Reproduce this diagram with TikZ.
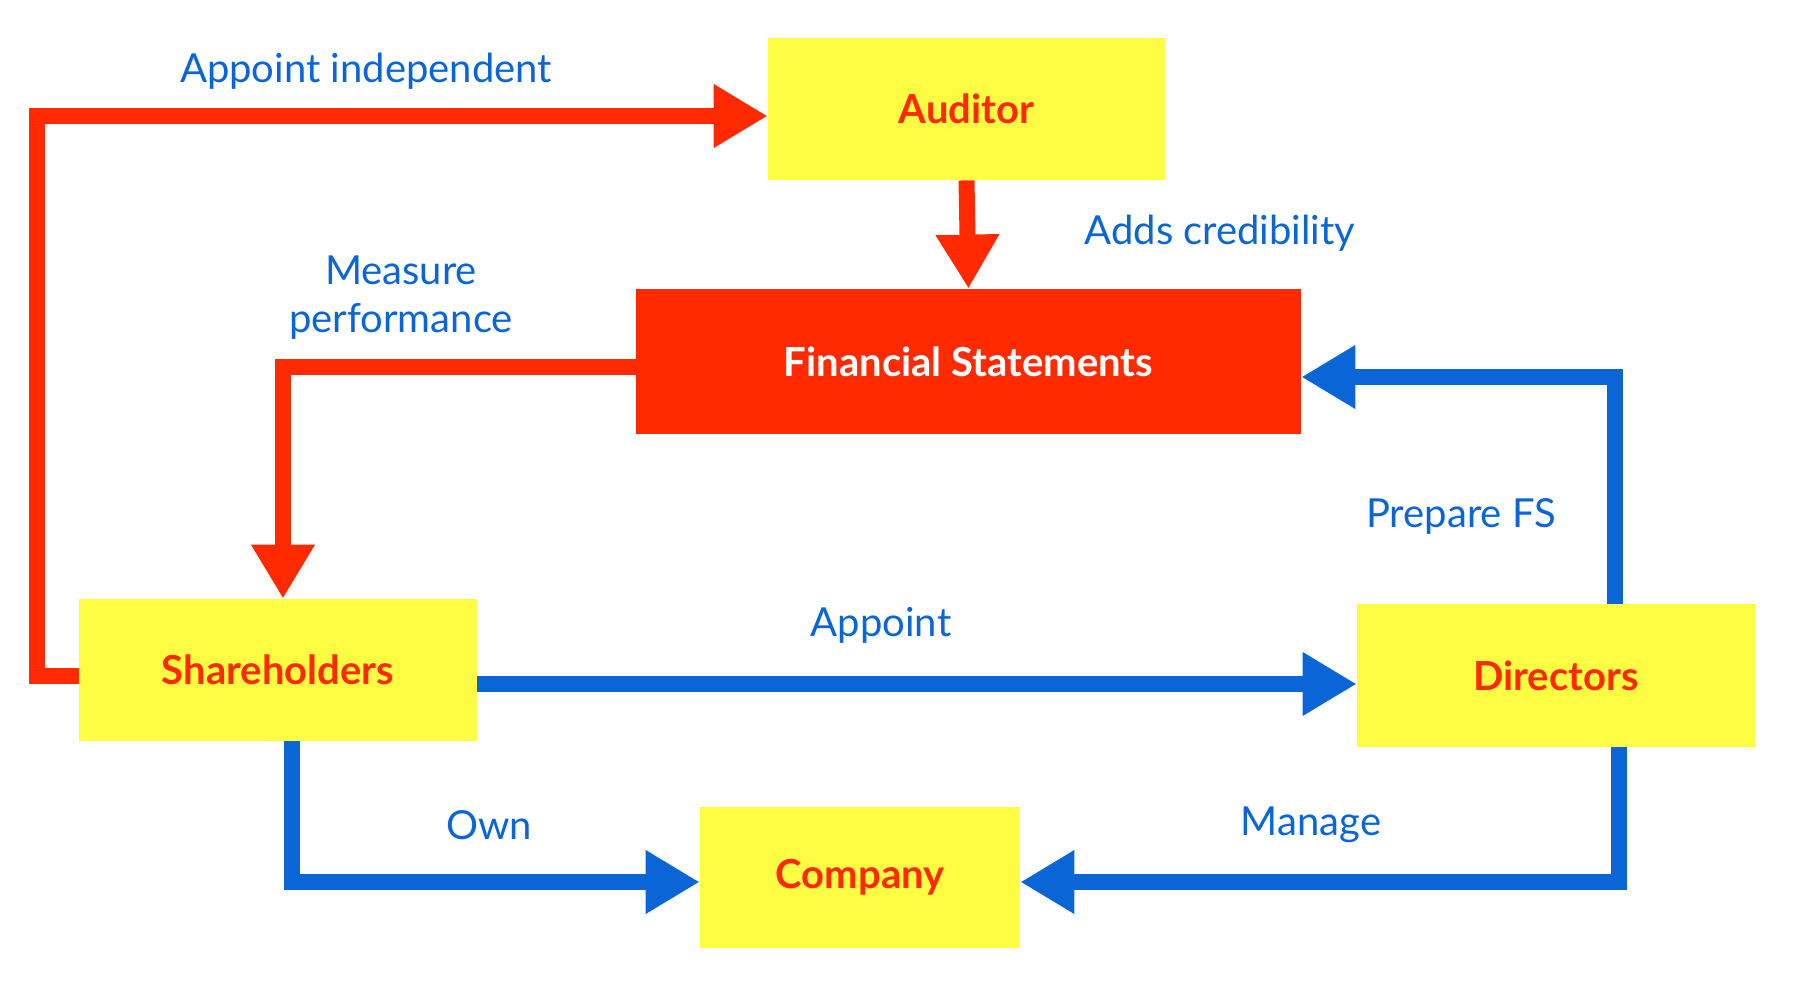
\documentclass[tikz,border=0pt]{standalone}
\usepackage{fontspec}
\setmainfont{Lato}
\usetikzlibrary{arrows.meta,positioning}
\definecolor{acred}{RGB}{255,42,0}
\definecolor{acyellow}{RGB}{255,252,68}
\definecolor{acblue}{RGB}{10,102,214}
\tikzstyle{boxnode} = [rectangle, inner sep=0pt, text centered, fill=acyellow, text=acred, font=\fontsize{20}{24}\selectfont\bfseries]
\tikzstyle{redarrow} = [line width=8pt, color=acred, -{Triangle[length=27pt,width=30pt]}]
\tikzstyle{bluearrow} = [line width=8pt, color=acblue, -{Triangle[length=27pt,width=30pt]}]
\tikzstyle{lbl} = [text=acblue, font=\fontsize{20}{24}\selectfont, align=center]
\begin{document}
\begin{tikzpicture}[x=0.5pt, y=-0.5pt]
\useasboundingbox (0,0) rectangle (1793,984);
% boxes
\node[boxnode, minimum width=198.5pt, minimum height=71pt] (aud) at (966.5,109) {Auditor};
\node[boxnode, minimum width=332.5pt, minimum height=72.5pt, fill=acred, text=white] (fs) at (968.5,361.5) {Financial Statements};
\node[boxnode, minimum width=199pt, minimum height=71pt] (sh) at (278,670) {Shareholders};
\node[boxnode, minimum width=199pt, minimum height=71.5pt] (dir) at (1556,675.5) {Directors};
\node[boxnode, minimum width=160pt, minimum height=70.5pt] (co) at (860,877.5) {Company};
% red connectors
\draw[redarrow] (sh.west |- 0,676) -- (37,676) -- (37,116) -- (aud.west |- 0,116);
\draw[redarrow] (aud.south) -- (fs.north);
\draw[redarrow] (fs.west |- 0,367) -- (283,367) -- (283,0 |- sh.north);
% blue connectors
\draw[bluearrow] (sh.east |- 0,684) -- (dir.west |- 0,684);
\draw[bluearrow] (1615,0 |- dir.north) -- (1615,377) -- (fs.east |- 0,377);
\draw[bluearrow] (1619,0 |- dir.south) -- (1619,882) -- (co.east |- 0,882);
\draw[bluearrow] (292,0 |- sh.south) -- (292,882) -- (co.west |- 0,882);
% labels
\node[lbl] at (366,71) {Appoint independent};
\node[lbl] at (1220,233) {Adds credibility};
\node[lbl] at (401,298) {Measure\\performance};
\node[lbl] at (1461,516) {Prepare FS};
\node[lbl] at (881,625) {Appoint};
\node[lbl] at (489,825) {Own};
\node[lbl] at (1311,825) {Manage};
\end{tikzpicture}
\end{document}
